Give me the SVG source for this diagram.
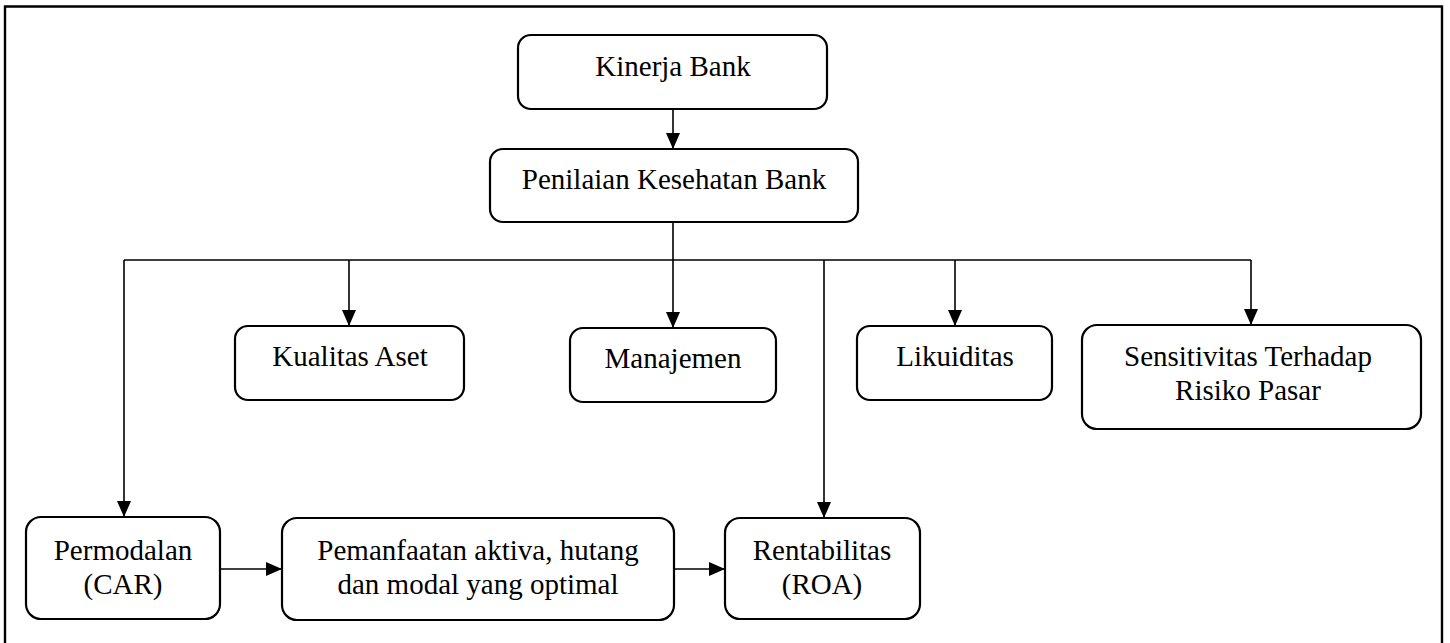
<svg xmlns="http://www.w3.org/2000/svg" width="1450" height="643" viewBox="0 0 1450 643">
<style>
.box{fill:#fff;stroke:#000;stroke-width:2.2}
.t{font-family:'Liberation Serif','DejaVu Serif',serif;font-size:29px;fill:#000;text-anchor:middle}
.c{fill:none;stroke:#000;stroke-width:1.6}
.a{fill:none;stroke:#000;stroke-width:1.6;marker-end:url(#ah)}
</style>
<defs>
<marker id="ah" markerUnits="userSpaceOnUse" markerWidth="18" markerHeight="18" viewBox="0 0 18 18" refX="17" refY="9" orient="auto">
<path d="M1,2 L17,9 L1,16 Z" fill="#000"/>
</marker>
</defs>
<rect width="1450" height="643" fill="#fff"/>
<path d="M5,643 V6.5 H1442 V643" fill="none" stroke="#000" stroke-width="2.4"/>
<g id="connectors">
<path class="a" d="M673,109 V149"/>
<path class="c" d="M673,222 V260 M124,260 H1251"/>
<path class="a" d="M124,260 V517"/>
<path class="a" d="M349,260 V326"/>
<path class="a" d="M673,260 V328"/>
<path class="a" d="M824,260 V518"/>
<path class="a" d="M955,260 V326"/>
<path class="a" d="M1251,260 V325"/>
<path class="a" d="M220,569 H282"/>
<path class="a" d="M674,569 H725"/>
</g>
<g id="kinerja">
<rect class="box" x="518" y="35" width="309" height="74" rx="13"/>
<text class="t" x="673" y="76" font-family="Liberation Serif">Kinerja Bank</text>
</g>
<g id="penilaian">
<rect class="box" x="490" y="149" width="368" height="73" rx="13"/>
<text class="t" x="674" y="189">Penilaian Kesehatan Bank</text>
</g>
<g id="kualitas">
<rect class="box" x="235" y="326" width="229" height="74" rx="13"/>
<text class="t" x="350" y="366">Kualitas Aset</text>
</g>
<g id="manajemen">
<rect class="box" x="570" y="328" width="206" height="74" rx="13"/>
<text class="t" x="673" y="368">Manajemen</text>
</g>
<g id="likuiditas">
<rect class="box" x="857" y="326" width="195" height="74" rx="13"/>
<text class="t" x="955" y="366">Likuiditas</text>
</g>
<g id="sensitivitas">
<rect class="box" x="1082" y="325" width="339" height="104" rx="15"/>
<text class="t" x="1248" y="366">Sensitivitas Terhadap</text>
<text class="t" x="1248" y="400">Risiko Pasar</text>
</g>
<g id="permodalan">
<rect class="box" x="26" y="517" width="194" height="102" rx="15"/>
<text class="t" x="123" y="560">Permodalan</text>
<text class="t" x="123" y="594">(CAR)</text>
</g>
<g id="pemanfaatan">
<rect class="box" x="282" y="518" width="392" height="102" rx="15"/>
<text class="t" x="478" y="560">Pemanfaatan aktiva, hutang</text>
<text class="t" x="478" y="594">dan modal yang optimal</text>
</g>
<g id="rentabilitas">
<rect class="box" x="725" y="518" width="195" height="101" rx="15"/>
<text class="t" x="822" y="560">Rentabilitas</text>
<text class="t" x="822" y="594">(ROA)</text>
</g>
</svg>
